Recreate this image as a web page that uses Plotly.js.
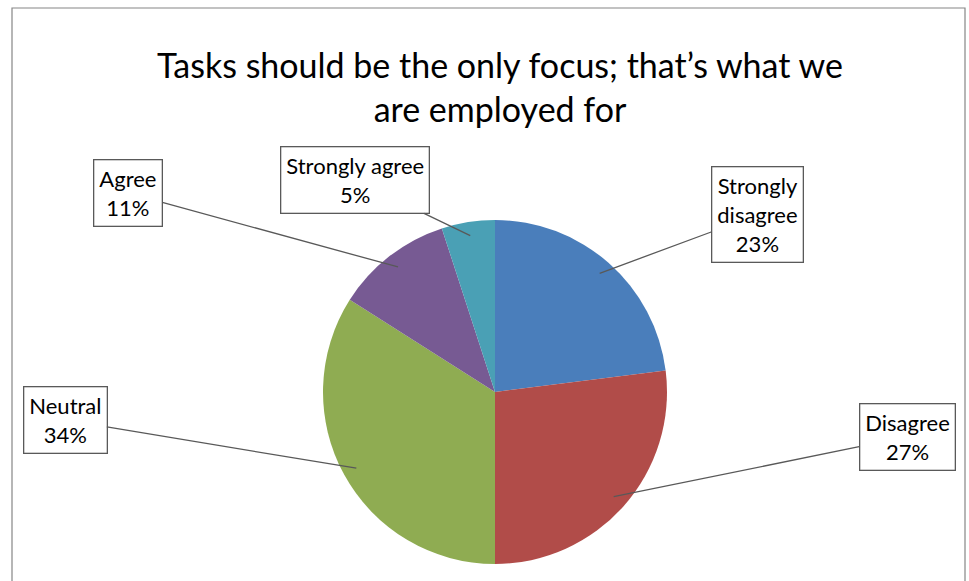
<!DOCTYPE html>
<html>
<head>
<meta charset="utf-8">
<script src="https://cdn.plot.ly/plotly-3.0.1.min.js"></script>
<style>html,body{margin:0;padding:0;background:#fff;}#chart{width:969px;height:581px;}</style>
</head>
<body>
<div id="chart"></div>
<script>
const categories = ["Strongly disagree", "Disagree", "Neutral", "Agree", "Strongly agree"];
const boxLabels = ["Strongly<br>disagree<br>23%", "Disagree<br>27%", "Neutral<br>34%", "Agree<br>11%", "Strongly agree<br>5%"];
const values = [23, 27, 34, 11, 5];
const colors = ["#4a7ebb", "#b14c49", "#8fac52", "#775a93", "#4aa0b5"];

const W = 969, H = 581;
const cx = 495, cy = 392, R = 172;
// label box centres (pixels)
const boxPos = [[757, 215], [907, 437], [65, 420], [128, 193], [355, 180]];

const total = values.reduce((a, b) => a + b, 0);
let cum = 0;
const annotations = [];
values.forEach((v, i) => {
  const mid = (cum + v / 2) / total * 2 * Math.PI;
  cum += v;
  const tx = cx + R * 0.92 * Math.sin(mid);
  const ty = cy - R * 0.92 * Math.cos(mid);
  annotations.push({
    xref: 'paper', yref: 'paper',
    x: tx / W, y: 1 - ty / H,
    ax: boxPos[i][0] - tx, ay: boxPos[i][1] - ty,
    axref: 'pixel', ayref: 'pixel',
    text: boxLabels[i],
    showarrow: true, arrowhead: 0, arrowwidth: 1.3, arrowcolor: '#595959',
    bgcolor: '#ffffff', bordercolor: '#595959', borderwidth: 1.3, borderpad: 5,
    font: {family: 'Lato, "Open Sans", sans-serif', size: 22, color: '#000'},
    align: 'center'
  });
});

const trace = {
  type: 'pie',
  labels: categories,
  values: values,
  sort: false,
  direction: 'clockwise',
  rotation: 0,
  marker: {colors: colors, line: {width: 0}},
  textinfo: 'none',
  hoverinfo: 'label+percent',
  domain: {x: [(cx - R) / W, (cx + R) / W], y: [1 - (cy + R) / H, 1 - (cy - R) / H]},
  showlegend: false
};

const layout = {
  width: W, height: H,
  margin: {l: 0, r: 0, t: 0, b: 0},
  paper_bgcolor: '#fff',
  title: {
    text: 'Tasks should be the only focus; that’s what we<br>are employed for',
    font: {family: 'Lato, "Open Sans", sans-serif', size: 34, color: '#000'},
    x: 0.516, xanchor: 'center', y: 1 - 78 / H, yanchor: 'middle'
  },
  annotations: annotations,
  shapes: [{
    type: 'rect', xref: 'paper', yref: 'paper',
    x0: 12 / W, x1: 965 / W, y0: -0.01, y1: 1 - 8 / H,
    line: {color: '#868686', width: 1.2}
  }],
  showlegend: false
};

Plotly.newPlot('chart', [trace], layout, {displayModeBar: false, staticPlot: true});
</script>
</body>
</html>
